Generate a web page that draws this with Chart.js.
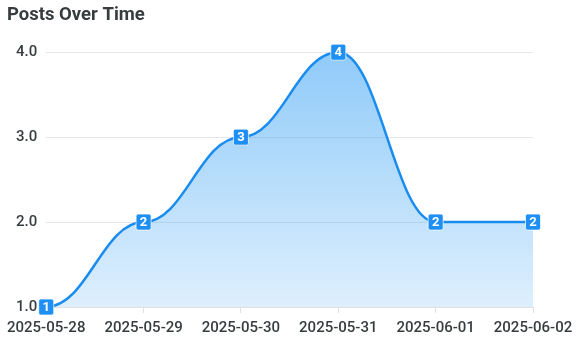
<!DOCTYPE html>
<html>
<head>
<meta charset="utf-8">
<script src="https://cdn.jsdelivr.net/npm/chart.js@4"></script>
<style>
  html, body { margin: 0; padding: 0; background: #fff; }
  #wrap { width: 582px; height: 350px; }
</style>
</head>
<body>
<div id="wrap"><canvas id="posts"></canvas></div>
<script>
const dates = ['2025-05-28', '2025-05-29', '2025-05-30', '2025-05-31', '2025-06-01', '2025-06-02'];
const postCounts = [1, 2, 3, 4, 2, 2];
const yTicks = [1, 2, 3, 4];

// smooth curve with flat tangents at every point
const flatCurve = {
  id: 'flatCurve',
  beforeDatasetsDraw(chart) {
    const pts = chart.getDatasetMeta(0).data;
    for (let i = 0; i < pts.length; i++) {
      const p = pts[i];
      const prev = pts[i - 1], next = pts[i + 1];
      const k = 0.42;
      p.cp1x = prev ? p.x - (p.x - prev.x) * k : p.x;
      p.cp1y = p.y;
      p.cp2x = next ? p.x + (next.x - p.x) * k : p.x;
      p.cp2y = p.y;
    }
  }
};

// little blue boxes with the value on every point
const valueBoxes = {
  id: 'valueBoxes',
  afterDatasetsDraw(chart) {
    const ctx = chart.ctx;
    const meta = chart.getDatasetMeta(0);
    ctx.save();
    ctx.font = 'bold 13px Roboto';
    ctx.textAlign = 'center';
    ctx.textBaseline = 'middle';
    meta.data.forEach(function (pt, i) {
      const w = 15, h = 16;
      ctx.beginPath();
      ctx.roundRect(pt.x - w / 2, pt.y - h / 2, w, h, 2);
      ctx.fillStyle = '#1e8ff5';
      ctx.fill();
      ctx.lineWidth = 1;
      ctx.strokeStyle = 'rgba(255,255,255,0.7)';
      ctx.stroke();
      ctx.fillStyle = '#fff';
      ctx.fillText(String(postCounts[i]), pt.x, pt.y + 1);
    });
    ctx.restore();
  }
};

new Chart(document.getElementById('posts'), {
  type: 'line',
  plugins: [flatCurve, valueBoxes],
  data: {
    labels: dates,
    datasets: [{
      label: 'Posts',
      data: postCounts,
      borderColor: '#1a8cf0',
      borderWidth: 2.5,
      cubicInterpolationMode: 'monotone',
      pointRadius: 0,
      fill: true,
      backgroundColor: function (context) {
        const area = context.chart.chartArea;
        if (!area) return 'rgba(33,150,243,0.3)';
        const g = context.chart.ctx.createLinearGradient(0, area.top, 0, area.bottom);
        g.addColorStop(0, 'rgba(33,150,243,0.5)');
        g.addColorStop(1, 'rgba(33,150,243,0.15)');
        return g;
      }
    }]
  },
  options: {
    responsive: true,
    maintainAspectRatio: false,
    animation: false,
    layout: { padding: { left: 7, right: 49, top: 0, bottom: 7 } },
    plugins: {
      legend: { display: false },
      tooltip: { enabled: false },
      title: {
        display: true,
        text: 'Posts Over Time',
        align: 'start',
        color: '#373d3f',
        font: { family: 'Roboto', size: 18.5, weight: 'bold' },
        padding: { top: 4, bottom: 26 }
      }
    },
    scales: {
      x: {
        offset: false,
        grid: { drawOnChartArea: false, drawTicks: true, tickLength: 6, color: '#e0e0e0' },
        border: { color: '#e0e0e0' },
        ticks: {
          color: '#373d3f',
          font: { family: 'Roboto', size: 15, weight: '500' },
          maxRotation: 0,
          autoSkip: false,
          padding: 6
        }
      },
      y: {
        min: 1,
        max: 4,
        afterBuildTicks: function (axis) {
          axis.ticks = yTicks.map(function (v) { return { value: v }; });
        },
        grid: { color: '#e6e6e6', drawTicks: false },
        border: { display: false },
        ticks: {
          color: '#373d3f',
          font: { family: 'Roboto', size: 15, weight: '500' },
          padding: 9,
          callback: function (v) { return v.toFixed(1); }
        }
      }
    }
  }
});
</script>
</body>
</html>
